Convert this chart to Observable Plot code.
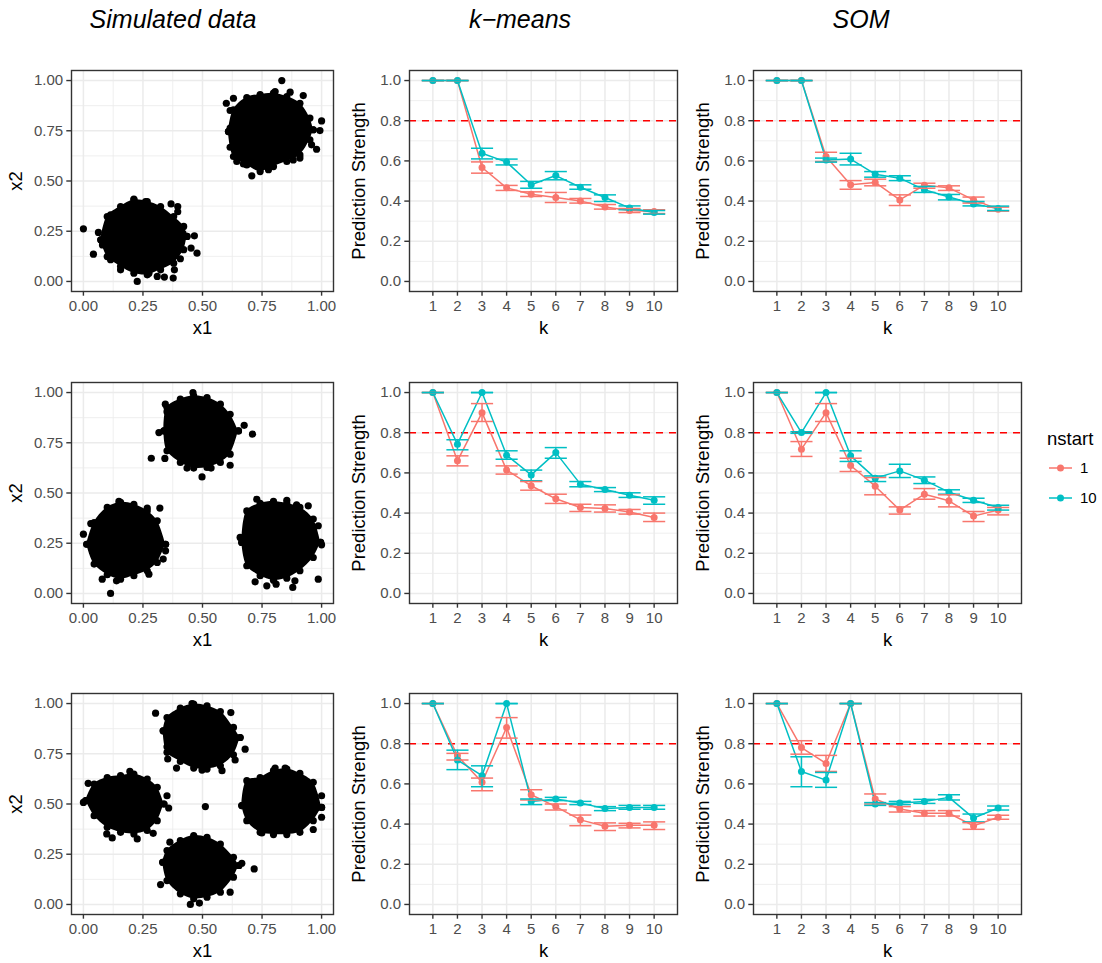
<!DOCTYPE html>
<html>
<head>
<meta charset="utf-8">
<script src="https://cdn.jsdelivr.net/npm/d3@7"></script>
<script src="https://cdn.jsdelivr.net/npm/@observablehq/plot@0.6"></script>
<style>
  html, body { margin: 0; padding: 0; background: #ffffff; }
  #page { position: relative; width: 1102px; height: 963px; background: #ffffff; overflow: hidden;
          font-family: "Liberation Sans", Arial, Helvetica, sans-serif; }
  #page svg.panel { position: absolute; overflow: visible; }
</style>
</head>
<body>
<div id="page"></div>
<script>
// ---------------- DATA ----------------
const columnTitles = ["Simulated data", "k\u2212means", "SOM"];
const nstartLevels = ["1", "10"];
const nstartColors = ["#F8766D", "#00BFC4"];
const kValues = [1, 2, 3, 4, 5, 6, 7, 8, 9, 10];
const scatterTicks = [0, 0.25, 0.5, 0.75, 1];
const scatterMinor = [0.125, 0.375, 0.625, 0.875];
const psTicks = [0, 0.2, 0.4, 0.6, 0.8, 1];
const psMinor = [0.1, 0.3, 0.5, 0.7, 0.9];
const threshold = 0.8;

// Simulated data: dense cluster outlines [cluster, x, lower x2, upper x2] and sparse edge points [x1, x2]
const sim1Core = [
  ["A", 0.073, 0.207, 0.207], ["A", 0.100, 0.124, 0.323], ["A", 0.156, 0.075, 0.373], ["A", 0.212, 0.041, 0.406],
  ["A", 0.268, 0.033, 0.398], ["A", 0.324, 0.058, 0.373], ["A", 0.379, 0.091, 0.323], ["A", 0.421, 0.158, 0.274],
  ["A", 0.435, 0.224, 0.224],
  ["B", 0.609, 0.746, 0.746], ["B", 0.630, 0.622, 0.854], ["B", 0.686, 0.580, 0.915], ["B", 0.742, 0.547, 0.930],
  ["B", 0.798, 0.572, 0.937], ["B", 0.854, 0.597, 0.920], ["B", 0.909, 0.630, 0.887], ["B", 0.951, 0.705, 0.813],
  ["B", 0.965, 0.755, 0.755]
];
const sim1Points = [
  [0.000, 0.262], [0.042, 0.136], [0.063, 0.244], [0.226, 0.000], [0.340, 0.022], [0.377, 0.017], [0.382, 0.058],
  [0.407, 0.113], [0.452, 0.166], [0.466, 0.227], [0.477, 0.141], [0.368, 0.386], [0.396, 0.373], [0.396, 0.347],
  [0.261, 0.398], [0.212, 0.410], [0.163, 0.365], [0.114, 0.332], [0.098, 0.265], [0.080, 0.182], [0.114, 0.108],
  [0.156, 0.058], [0.275, 0.041], [0.310, 0.025], [0.418, 0.240], [0.407, 0.174],
  [0.833, 1.000], [0.805, 0.945], [0.868, 0.942], [0.923, 0.925], [0.630, 0.912], [0.600, 0.887], [0.616, 0.851],
  [1.000, 0.799], [0.993, 0.751], [0.958, 0.680], [0.979, 0.658], [0.707, 0.526], [0.777, 0.556], [0.881, 0.605],
  [0.909, 0.614], [0.644, 0.597], [0.672, 0.585], [0.616, 0.668], [0.616, 0.763]
];
const sim2Core = [
  ["C", 0.338, 0.809, 0.809], ["C", 0.351, 0.710, 0.925], ["C", 0.407, 0.652, 0.967], ["C", 0.463, 0.624, 0.983],
  ["C", 0.519, 0.627, 0.975], ["C", 0.575, 0.652, 0.942], ["C", 0.616, 0.693, 0.892], ["C", 0.651, 0.809, 0.809],
  ["D", 0.014, 0.245, 0.245], ["D", 0.045, 0.146, 0.353], ["D", 0.100, 0.093, 0.428], ["D", 0.156, 0.071, 0.453],
  ["D", 0.212, 0.088, 0.444], ["D", 0.268, 0.113, 0.411], ["D", 0.310, 0.154, 0.362], ["D", 0.345, 0.245, 0.245],
  ["E", 0.665, 0.254, 0.254], ["E", 0.686, 0.138, 0.411], ["E", 0.742, 0.088, 0.448], ["E", 0.798, 0.066, 0.458],
  ["E", 0.854, 0.076, 0.448], ["E", 0.909, 0.113, 0.428], ["E", 0.965, 0.179, 0.370], ["E", 0.996, 0.254, 0.254]
];
const sim2Points = [
  [0.460, 1.000], [0.344, 0.942], [0.351, 0.905], [0.317, 0.801], [0.285, 0.673], [0.342, 0.672], [0.675, 0.837],
  [0.710, 0.793], [0.498, 0.580], [0.435, 0.624], [0.536, 0.624], [0.616, 0.638],
  [0.000, 0.295], [0.031, 0.348], [0.114, 0.000], [0.149, 0.458], [0.321, 0.425], [0.268, 0.425], [0.345, 0.212],
  [0.335, 0.171], [0.275, 0.096], [0.079, 0.071], [0.139, 0.063],
  [0.728, 0.469], [0.854, 0.464], [0.895, 0.441], [0.944, 0.436], [0.658, 0.279], [0.693, 0.381], [0.986, 0.337],
  [1.000, 0.242], [0.986, 0.071], [0.721, 0.058], [0.770, 0.038], [0.809, 0.046], [0.879, 0.030], [0.888, 0.063]
];
const sim3Core = [
  ["F", 0.335, 0.864, 0.864], ["F", 0.351, 0.757, 0.930], ["F", 0.407, 0.712, 0.977], ["F", 0.463, 0.679, 0.997],
  ["F", 0.519, 0.674, 0.988], ["F", 0.575, 0.690, 0.960], ["F", 0.630, 0.745, 0.881], ["F", 0.658, 0.831, 0.831],
  ["G", 0.010, 0.517, 0.517], ["G", 0.045, 0.442, 0.599], ["G", 0.100, 0.384, 0.632], ["G", 0.156, 0.359, 0.641],
  ["G", 0.212, 0.351, 0.649], ["G", 0.268, 0.368, 0.624], ["G", 0.310, 0.417, 0.583], ["G", 0.338, 0.500, 0.500],
  ["H", 0.665, 0.492, 0.492], ["H", 0.686, 0.417, 0.616], ["H", 0.742, 0.359, 0.632], ["H", 0.798, 0.348, 0.666],
  ["H", 0.854, 0.348, 0.674], ["H", 0.909, 0.359, 0.652], ["H", 0.965, 0.417, 0.608], ["H", 1.000, 0.483, 0.483],
  ["I", 0.333, 0.210, 0.210], ["I", 0.351, 0.119, 0.268], ["I", 0.407, 0.053, 0.318], ["I", 0.463, 0.028, 0.343],
  ["I", 0.519, 0.036, 0.334], ["I", 0.575, 0.061, 0.301], ["I", 0.630, 0.136, 0.235], ["I", 0.653, 0.194, 0.194]
];
const sim3Points = [
  [0.303, 0.952], [0.351, 0.785], [0.354, 0.724], [0.391, 0.679], [0.498, 0.669], [0.582, 0.666], [0.637, 0.719],
  [0.679, 0.773], [0.619, 0.955], [0.456, 1.000],
  [0.000, 0.508], [0.020, 0.603], [0.098, 0.351], [0.121, 0.331], [0.226, 0.326], [0.293, 0.354], [0.351, 0.541],
  [0.358, 0.480], [0.195, 0.662],
  [0.805, 0.679], [0.847, 0.679], [0.512, 0.487], [1.000, 0.541], [1.000, 0.434], [0.965, 0.373], [0.749, 0.356],
  [0.693, 0.421],
  [0.363, 0.310], [0.324, 0.099], [0.449, 0.000], [0.487, 0.007], [0.616, 0.061], [0.665, 0.205], [0.717, 0.177]
];

// Prediction strength (mean, lower, upper) per k, for nstart = 1 and nstart = 10
const km1_ps1  = [1, 1, 0.567, 0.466, 0.434, 0.418, 0.401, 0.371, 0.353, 0.348];
const km1_lo1  = [1, 1, 0.539, 0.453, 0.423, 0.393, 0.390, 0.360, 0.343, 0.338];
const km1_hi1  = [1, 1, 0.595, 0.478, 0.446, 0.443, 0.413, 0.383, 0.363, 0.357];
const km1_ps10 = [1, 1, 0.638, 0.594, 0.481, 0.527, 0.469, 0.418, 0.366, 0.343];
const km1_lo10 = [1, 1, 0.610, 0.580, 0.464, 0.506, 0.459, 0.398, 0.357, 0.335];
const km1_hi10 = [1, 1, 0.663, 0.609, 0.498, 0.547, 0.481, 0.431, 0.376, 0.353];

const som1_ps1  = [1, 1, 0.622, 0.481, 0.493, 0.406, 0.479, 0.466, 0.406, 0.360];
const som1_lo1  = [1, 1, 0.597, 0.459, 0.476, 0.378, 0.464, 0.453, 0.390, 0.350];
const som1_hi1  = [1, 1, 0.643, 0.502, 0.509, 0.431, 0.489, 0.476, 0.420, 0.370];
const som1_ps10 = [1, 1, 0.605, 0.609, 0.534, 0.514, 0.456, 0.420, 0.386, 0.363];
const som1_lo10 = [1, 1, 0.594, 0.580, 0.519, 0.502, 0.443, 0.406, 0.376, 0.353];
const som1_hi10 = [1, 1, 0.614, 0.638, 0.547, 0.526, 0.473, 0.433, 0.398, 0.375];

const km2_ps1  = [1, 0.660, 0.900, 0.614, 0.536, 0.471, 0.428, 0.423, 0.405, 0.378];
const km2_lo1  = [1, 0.635, 0.856, 0.594, 0.514, 0.448, 0.408, 0.405, 0.395, 0.358];
const km2_hi1  = [1, 0.685, 0.945, 0.635, 0.557, 0.494, 0.444, 0.441, 0.418, 0.400];
const km2_ps10 = [1, 0.743, 1, 0.688, 0.590, 0.701, 0.544, 0.517, 0.489, 0.464];
const km2_lo10 = [1, 0.715, 1, 0.668, 0.561, 0.673, 0.531, 0.507, 0.478, 0.444];
const km2_hi10 = [1, 0.765, 1, 0.710, 0.614, 0.726, 0.557, 0.527, 0.501, 0.481];

const som2_ps1  = [1, 0.718, 0.900, 0.637, 0.534, 0.415, 0.494, 0.461, 0.385, 0.415];
const som2_lo1  = [1, 0.682, 0.856, 0.607, 0.491, 0.395, 0.469, 0.431, 0.358, 0.391];
const som2_hi1  = [1, 0.756, 0.945, 0.673, 0.577, 0.431, 0.522, 0.491, 0.408, 0.428];
const som2_ps10 = [1, 0.801, 1, 0.685, 0.574, 0.610, 0.564, 0.504, 0.464, 0.428];
const som2_lo10 = [1, 0.797, 1, 0.657, 0.557, 0.577, 0.547, 0.494, 0.453, 0.415];
const som2_hi10 = [1, 0.805, 1, 0.710, 0.585, 0.643, 0.580, 0.516, 0.474, 0.439];

const km3_ps1  = [1, 0.740, 0.608, 0.881, 0.546, 0.487, 0.421, 0.389, 0.394, 0.394];
const km3_lo1  = [1, 0.719, 0.566, 0.828, 0.520, 0.470, 0.392, 0.368, 0.381, 0.373];
const km3_hi1  = [1, 0.752, 0.629, 0.930, 0.571, 0.500, 0.445, 0.406, 0.404, 0.411];
const km3_ps10 = [1, 0.719, 0.641, 1, 0.513, 0.525, 0.505, 0.477, 0.483, 0.483];
const km3_lo10 = [1, 0.671, 0.586, 1, 0.497, 0.517, 0.497, 0.467, 0.474, 0.474];
const km3_hi10 = [1, 0.768, 0.690, 1, 0.525, 0.533, 0.513, 0.487, 0.493, 0.493];

const som3_ps1  = [1, 0.781, 0.702, 1, 0.525, 0.475, 0.454, 0.454, 0.391, 0.434];
const som3_lo1  = [1, 0.748, 0.662, 1, 0.500, 0.460, 0.440, 0.440, 0.374, 0.424];
const som3_hi1  = [1, 0.815, 0.742, 1, 0.550, 0.487, 0.467, 0.467, 0.407, 0.444];
const som3_ps10 = [1, 0.662, 0.619, 1, 0.500, 0.505, 0.513, 0.533, 0.430, 0.480];
const som3_lo10 = [1, 0.586, 0.583, 1, 0.493, 0.497, 0.503, 0.520, 0.411, 0.470];
const som3_hi10 = [1, 0.735, 0.657, 1, 0.507, 0.513, 0.523, 0.546, 0.450, 0.490];

// ---------------- BUILD ----------------
const FONT = '"Liberation Sans", Arial, Helvetica, sans-serif';
const page = document.getElementById("page");

function psTable(ps1, lo1, hi1, ps10, lo10, hi10) {
  const rows = [];
  kValues.forEach((k, i) => rows.push({k, nstart: nstartLevels[0], ps: ps1[i], lo: lo1[i], hi: hi1[i]}));
  kValues.forEach((k, i) => rows.push({k, nstart: nstartLevels[1], ps: ps10[i], lo: lo10[i], hi: hi10[i]}));
  return rows;
}

const colFrames = [{left: 71, width: 262}, {left: 409, width: 268}, {left: 753, width: 268}];
const rowFrames = [70, 382, 693];
const frameH = 221;
const M = {l: 72, r: 4, t: 4, b: 52};

function place(svg, col, row) {
  const f = colFrames[col];
  svg.classList.add("panel");
  svg.style.left = (f.left - M.l) + "px";
  svg.style.top = (rowFrames[row] - M.t) + "px";
  page.appendChild(svg);
}

function common(col) {
  return {
    width: colFrames[col].width + M.l + M.r,
    height: frameH + M.t + M.b,
    marginLeft: M.l, marginRight: M.r, marginTop: M.t, marginBottom: M.b,
    style: {fontFamily: FONT, background: "transparent", overflow: "visible"}
  };
}

const gridStyle = {stroke: "#EBEBEB", strokeOpacity: 1};
const axisStyle = {tickSize: 4.7, tickPadding: 3.7, fontSize: 15, fill: "#4D4D4D", stroke: "#333333", strokeWidth: 1.4, label: null};
const titleStyle = {fontSize: 18.5, fill: "black", textAnchor: "middle", lineAnchor: "middle"};

function scatterPanel(core, pts, row) {
  const coreRows = core.map(([cluster, x, lo, hi]) => ({cluster, x, lo, hi}));
  const ptRows = pts.map(([x1, x2]) => ({x1, x2}));
  const svg = Plot.plot({
    ...common(0),
    x: {domain: [-0.05, 1.05]},
    y: {domain: [-0.05, 1.05]},
    marks: [
      Plot.gridX(scatterMinor, {...gridStyle, strokeWidth: 0.8}),
      Plot.gridY(scatterMinor, {...gridStyle, strokeWidth: 0.8}),
      Plot.gridX(scatterTicks, {...gridStyle, strokeWidth: 1.5}),
      Plot.gridY(scatterTicks, {...gridStyle, strokeWidth: 1.5}),
      Plot.areaY(coreRows, {x: "x", y1: "lo", y2: "hi", z: "cluster", fill: "black", curve: "catmull-rom"}),
      Plot.dot(coreRows, {x: "x", y: "lo", r: 3.6, fill: "black", stroke: "none"}),
      Plot.dot(coreRows, {x: "x", y: "hi", r: 3.6, fill: "black", stroke: "none"}),
      Plot.dot(ptRows, {x: "x1", y: "x2", r: 3.6, fill: "black", stroke: "none"}),
      Plot.frame({stroke: "#333333", strokeWidth: 1.4}),
      Plot.axisX(scatterTicks, {...axisStyle, tickFormat: d3.format(".2f")}),
      Plot.axisY(scatterTicks, {...axisStyle, tickFormat: d3.format(".2f")}),
      Plot.text(["x1"], {...titleStyle, text: d => d, frameAnchor: "bottom", dy: 37}),
      Plot.text(["x2"], {...titleStyle, text: d => d, frameAnchor: "left", dx: -55, rotate: -90})
    ]
  });
  place(svg, 0, row);
}

function psPanel(rows, col, row) {
  const svg = Plot.plot({
    ...common(col),
    x: {domain: [0.05, 10.95]},
    y: {domain: [-0.05, 1.05]},
    color: {domain: nstartLevels, range: nstartColors},
    marks: [
      Plot.gridY(psMinor, {...gridStyle, strokeWidth: 0.8}),
      Plot.gridY(psTicks, {...gridStyle, strokeWidth: 1.5}),
      Plot.gridX(kValues, {...gridStyle, strokeWidth: 1.5}),
      Plot.ruleY([threshold], {stroke: "#FF0000", strokeWidth: 1.5, strokeDasharray: "7,6"}),
      Plot.line(rows, {x: "k", y: "ps", z: "nstart", stroke: "nstart", strokeWidth: 1.5}),
      Plot.dot(rows, {x: "k", y: "ps", fill: "nstart", r: 3.5, stroke: "none"}),
      Plot.ruleX(rows, {x: "k", y1: "lo", y2: "hi", stroke: "nstart", strokeWidth: 1.5}),
      Plot.link(rows, {x1: d => d.k - 0.45, x2: d => d.k + 0.45, y1: "lo", y2: "lo", stroke: "nstart", strokeWidth: 1.5}),
      Plot.link(rows, {x1: d => d.k - 0.45, x2: d => d.k + 0.45, y1: "hi", y2: "hi", stroke: "nstart", strokeWidth: 1.5}),
      Plot.frame({stroke: "#333333", strokeWidth: 1.4}),
      Plot.axisX(kValues, {...axisStyle, tickFormat: d => String(d)}),
      Plot.axisY(psTicks, {...axisStyle, tickFormat: d3.format(".1f")}),
      Plot.text(["k"], {...titleStyle, text: d => d, frameAnchor: "bottom", dy: 37}),
      Plot.text(["Prediction Strength"], {...titleStyle, text: d => d, frameAnchor: "left", dx: -50, rotate: -90})
    ]
  });
  place(svg, col, row);
}

scatterPanel(sim1Core, sim1Points, 0);
scatterPanel(sim2Core, sim2Points, 1);
scatterPanel(sim3Core, sim3Points, 2);
psPanel(psTable(km1_ps1, km1_lo1, km1_hi1, km1_ps10, km1_lo10, km1_hi10), 1, 0);
psPanel(psTable(som1_ps1, som1_lo1, som1_hi1, som1_ps10, som1_lo10, som1_hi10), 2, 0);
psPanel(psTable(km2_ps1, km2_lo1, km2_hi1, km2_ps10, km2_lo10, km2_hi10), 1, 1);
psPanel(psTable(som2_ps1, som2_lo1, som2_hi1, som2_ps10, som2_lo10, som2_hi10), 2, 1);
psPanel(psTable(km3_ps1, km3_lo1, km3_hi1, km3_ps10, km3_lo10, km3_hi10), 1, 2);
psPanel(psTable(som3_ps1, som3_lo1, som3_hi1, som3_ps10, som3_lo10, som3_hi10), 2, 2);

// Column titles and legend overlay
const overlay = d3.select(page).append("svg")
  .attr("width", 1102).attr("height", 963)
  .style("position", "absolute").style("left", "0px").style("top", "0px")
  .style("pointer-events", "none").style("font-family", FONT);

const titleX = [173, 520, 861];
overlay.selectAll("text.coltitle").data(columnTitles).join("text")
  .attr("class", "coltitle")
  .attr("x", (d, i) => titleX[i]).attr("y", 28)
  .attr("text-anchor", "middle").attr("font-size", 25).attr("font-style", "italic")
  .attr("fill", "black").text(d => d);

const legend = overlay.append("g");
legend.append("text").attr("x", 1047).attr("y", 445).attr("font-size", 18.5).attr("fill", "black").text("nstart");
const items = legend.selectAll("g.item").data(nstartLevels).join("g").attr("class", "item")
  .attr("transform", (d, i) => `translate(0,${468 + i * 30})`);
items.append("line").attr("x1", 1049).attr("x2", 1072).attr("y1", 0).attr("y2", 0)
  .attr("stroke", (d, i) => nstartColors[i]).attr("stroke-width", 1.5);
items.append("circle").attr("cx", 1060.5).attr("cy", 0).attr("r", 3.5).attr("fill", (d, i) => nstartColors[i]);
items.append("text").attr("x", 1080).attr("y", 5.3).attr("font-size", 15).attr("fill", "black").text(d => d);
</script>
</body>
</html>
